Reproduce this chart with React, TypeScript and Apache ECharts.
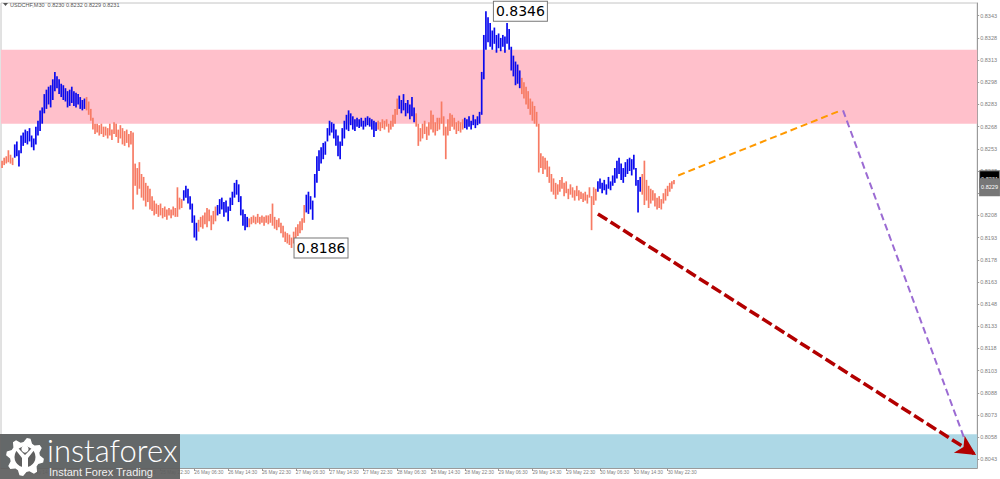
import React, { useEffect, useRef } from "react";
import * as echarts from "echarts";

// ---- data (prices in pips: value x 10000) ----
const LOW_PIPS = [
  8240,8242,8243,8244,8243,8242,8247,8248,8241,8250,8255,8257,8256,8258,8254,8252,8256,8262,8265,8270,
  8277,8280,8283,8281,8286,8292,8294,8290,8288,8286,8285,8281,8282,8284,8282,8281,8283,8280,8279,8280,
  8279,8276,8272,8266,8263,8264,8262,8263,8261,8262,8260,8262,8259,8263,8261,8257,8260,8256,8255,8257,
  8254,8256,8212,8228,8222,8226,8220,8218,8214,8217,8212,8211,8208,8209,8207,8208,8206,8207,8205,8208,
  8206,8208,8207,8207,8212,8213,8218,8220,8216,8212,8203,8193,8191,8197,8200,8199,8202,8200,8204,8198,
  8202,8204,8208,8209,8212,8207,8210,8204,8211,8215,8220,8222,8217,8208,8201,8198,8200,8200,8202,8203,
  8202,8203,8202,8203,8201,8203,8202,8203,8201,8199,8198,8200,8196,8193,8190,8189,8188,8186,8189,8192,
  8194,8196,8198,8203,8210,8209,8212,8205,8220,8230,8238,8243,8246,8249,8258,8262,8264,8260,8255,8248,
  8246,8255,8260,8266,8265,8269,8266,8265,8268,8267,8268,8266,8268,8269,8268,8266,8261,8265,8266,8265,
  8267,8266,8268,8264,8266,8268,8270,8276,8280,8277,8279,8275,8277,8273,8275,8271,8268,8255,8258,8260,
  8263,8259,8262,8266,8264,8262,8265,8266,8270,8262,8246,8262,8265,8268,8266,8263,8265,8264,8266,8267,
  8266,8268,8266,8269,8267,8269,8270,8276,8300,8320,8325,8322,8320,8324,8318,8321,8319,8322,8318,8324,
  8320,8306,8302,8296,8297,8294,8290,8287,8283,8280,8276,8272,8270,8268,8237,8240,8236,8239,8234,8230,
  8224,8222,8219,8222,8224,8226,8221,8223,8219,8222,8220,8218,8221,8218,8219,8217,8218,8216,8220,8198,
  8215,8218,8224,8226,8223,8225,8222,8226,8225,8228,8230,8233,8236,8232,8230,8234,8236,8238,8235,8239,
  8228,8210,8224,8222,8215,8218,8213,8216,8218,8214,8212,8213,8212,8216,8218,8221,8224,8226,8229,
];
const HIGH_PIPS = [
  8245,8247,8248,8252,8249,8247,8256,8258,8252,8262,8264,8266,8265,8267,8262,8260,8268,8272,8279,8281,
  8290,8293,8295,8296,8300,8305,8302,8300,8297,8296,8294,8292,8293,8295,8292,8291,8290,8288,8286,8287,
  8288,8285,8280,8274,8270,8270,8269,8270,8268,8268,8267,8270,8266,8271,8270,8266,8269,8267,8265,8266,
  8263,8265,8264,8243,8240,8244,8236,8234,8230,8228,8226,8221,8218,8216,8215,8216,8213,8214,8212,8213,
  8212,8214,8213,8227,8220,8219,8225,8228,8226,8221,8216,8208,8203,8205,8207,8208,8210,8213,8212,8208,
  8211,8214,8215,8219,8220,8217,8218,8214,8220,8224,8230,8232,8229,8221,8212,8209,8207,8206,8207,8208,
  8207,8209,8207,8208,8207,8208,8208,8209,8216,8207,8205,8206,8203,8201,8197,8196,8195,8193,8197,8200,
  8202,8204,8206,8215,8222,8224,8221,8218,8236,8248,8252,8254,8257,8258,8267,8272,8271,8270,8266,8262,
  8258,8267,8272,8276,8279,8277,8275,8273,8274,8273,8274,8272,8274,8275,8274,8273,8272,8271,8272,8271,
  8273,8272,8273,8270,8272,8276,8280,8287,8289,8286,8290,8284,8286,8283,8288,8281,8277,8270,8267,8270,
  8272,8268,8271,8279,8276,8271,8274,8274,8285,8275,8268,8273,8277,8276,8274,8271,8272,8271,8273,8274,
  8273,8275,8272,8276,8273,8275,8278,8305,8330,8346,8342,8338,8333,8335,8330,8331,8328,8330,8329,8338,
  8334,8322,8316,8312,8310,8306,8301,8298,8295,8292,8287,8285,8282,8278,8270,8250,8248,8247,8245,8241,
  8236,8233,8230,8229,8232,8234,8230,8231,8226,8229,8227,8225,8228,8225,8224,8223,8224,8222,8227,8221,
  8227,8226,8231,8233,8230,8232,8229,8234,8231,8235,8240,8245,8247,8243,8240,8244,8246,8247,8246,8249,
  8240,8232,8234,8236,8245,8232,8228,8226,8225,8223,8220,8221,8219,8223,8226,8228,8230,8231,8232,
];
// first bar index of each wave; waves alternate down (salmon) / up (blue)
const WAVE_STARTS = [0, 6, 40, 86, 93, 102, 117, 144, 178, 188, 196, 219, 246, 282, 303];
const WAVE_COLORS = ["#f77b64", "#0a0aee"];

const TIME_LABELS = [
  "24 May 14:30", "24 May 22:30", "25 May 06:30", "25 May 14:30", "25 May 22:30",
  "26 May 06:30", "26 May 14:30", "26 May 22:30", "27 May 06:30", "27 May 14:30",
  "27 May 22:30", "28 May 06:30", "28 May 14:30", "28 May 22:30", "29 May 06:30",
  "29 May 14:30", "29 May 22:30", "30 May 06:30", "30 May 14:30", "30 May 22:30",
];
const FIRST_LABEL_INDEX = 11;
const LABEL_STEP = 16;
const SLOT_COUNT = 462;

const PRICE_TICKS = [
  0.8043, 0.8058, 0.8073, 0.8088, 0.8103, 0.8118, 0.8133, 0.8148, 0.8163, 0.8178, 0.8193,
  0.8208, 0.8223, 0.8238, 0.8253, 0.8268, 0.8283, 0.8298, 0.8313, 0.8328, 0.8343,
];
const Y_MIN = 0.80372;
const Y_MAX = 0.83516;

const RESISTANCE_ZONE = [0.827, 0.832];
const SUPPORT_ZONE = [Y_MIN, 0.806];
const HIGH_MARK = [229, 0.8346];
const LOW_MARK = [137, 0.8186];
const LAST_PRICE = 0.8231;
const BID_PRICE = 0.8229;

const ORANGE_PATH = [[320, 0.8235], [397, 0.8279]];
const PURPLE_PATH = [[398, 0.8279], [457, 0.8051]];
const RED_PATH = [[282, 0.8209], [460.5, 0.8046]];

const TITLE = "USDCHF,M30  0.8230 0.8232 0.8229 0.8231";

function waveIndex(i: number) {
  let w = 0;
  for (let k = 0; k < WAVE_STARTS.length; k++) if (i >= WAVE_STARTS[k]) w = k;
  return w % 2;
}

function gearPoints(cx: number, cy: number, ro: number, ri: number, teeth: number) {
  const pts: number[][] = [];
  const n = teeth * 4;
  for (let k = 0; k < n; k++) {
    const a = (k / n) * Math.PI * 2 - Math.PI / 2 + Math.PI / n;
    const r = k % 4 < 2 ? ro : ri;
    pts.push([cx + r * Math.cos(a), cy + r * Math.sin(a)]);
  }
  return pts;
}

export default function App() {
  const ref = useRef<HTMLDivElement>(null);
  useEffect(() => {
    document.body.style.margin = "0";
    const chart = echarts.init(ref.current!, null, { renderer: "svg" });

    const categories = Array.from({ length: SLOT_COUNT }, (_, i) => {
      const k = (i - FIRST_LABEL_INDEX) / LABEL_STEP;
      return Number.isInteger(k) && k >= 0 && k < TIME_LABELS.length ? TIME_LABELS[k] : "";
    });
    const showLabel = (_i: number, v: string) => v !== "";

    // [index, low, high, wave]
    const bars = LOW_PIPS.map((lo, i) => [i, lo / 10000, HIGH_PIPS[i] / 10000, waveIndex(i)]);

    const arrow = (path: number[][], color: string, width: number, dash: number[], head: boolean) => ({
      type: "line",
      data: [],
      z: 5,
      silent: true,
      markLine: {
        silent: true,
        animation: false,
        symbol: ["none", head ? "arrow" : "none"],
        symbolSize: head ? [15, 20] : 0,
        label: { show: false },
        lineStyle: { color, width, type: dash, opacity: 1 },
        emphasis: { disabled: true },
        data: [[{ coord: path[0] }, { coord: path[1] }]],
        itemStyle: { color },
      },
    });

    const boxLabel = {
      show: true,
      color: "#000",
      fontSize: 14,
      fontFamily: "DejaVu Sans",
      backgroundColor: "#fff",
      borderColor: "#777",
      borderWidth: 1,
      padding: [2, 2, 1, 2],
      lineHeight: 16,
    };
    const priceTag = (bg: string, dy: number, text: string) => ({
      show: true,
      position: "right",
      distance: 4,
      offset: [0, dy],
      formatter: text,
      backgroundColor: bg,
      color: "#fff",
      fontSize: 5.5,
      padding: [0, 1],
      fontFamily: "Liberation Sans",
    });

    const Z = 100;
    chart.setOption({
      animation: false,
      grid: {
        left: 1,
        right: 19,
        top: 3,
        bottom: 11,
        show: true,
        borderColor: "#c4c4c4",
        borderWidth: 1,
        backgroundColor: "transparent",
      },
      xAxis: {
        type: "category",
        data: categories,
        boundaryGap: true,
        axisLine: { show: true, lineStyle: { color: "#9a9a9a" } },
        axisTick: {
          show: true,
          interval: showLabel,
          alignWithLabel: true,
          length: 3,
          lineStyle: { color: "#9a9a9a" },
        },
        axisLabel: {
          interval: showLabel,
          align: "left",
          fontSize: 4.8,
          color: "#808080",
          margin: 2,
          fontFamily: "Liberation Sans",
        },
        splitLine: { show: false },
      },
      yAxis: {
        type: "value",
        position: "right",
        min: Y_MIN,
        max: Y_MAX,
        axisLine: { show: true, lineStyle: { color: "#9a9a9a" } },
        axisTick: { show: true, customValues: PRICE_TICKS, length: 2, lineStyle: { color: "#9a9a9a" } },
        axisLabel: {
          customValues: PRICE_TICKS,
          formatter: (v: number) => v.toFixed(4),
          fontSize: 5.5,
          color: "#808080",
          margin: 3,
          fontFamily: "Liberation Sans",
        },
        splitLine: { show: false },
      },
      series: [
        {
          type: "line",
          data: [],
          z: 1,
          silent: true,
          markArea: {
            silent: true,
            z: 1,
            label: { show: false },
            data: [
              [
                { yAxis: RESISTANCE_ZONE[1], itemStyle: { color: "#ffc0cb", opacity: 1 } },
                { yAxis: RESISTANCE_ZONE[0] },
              ],
              [
                { yAxis: SUPPORT_ZONE[1], itemStyle: { color: "#add8e6", opacity: 1 } },
                { yAxis: SUPPORT_ZONE[0] },
              ],
            ],
          },
        },
        {
          type: "custom",
          data: bars,
          z: 3,
          silent: true,
          encode: { x: 0, y: [1, 2] },
          renderItem: (_params: any, api: any) => {
            const lo = api.coord([api.value(0), api.value(1)]);
            const hi = api.coord([api.value(0), api.value(2)]);
            const c = WAVE_COLORS[api.value(3)];
            return {
              type: "rect",
              shape: { x: lo[0] - 0.85, y: hi[1], width: 1.7, height: Math.max(1, lo[1] - hi[1]) },
              style: { fill: c },
            };
          },
          markPoint: {
            silent: true,
            symbol: "circle",
            symbolSize: 0,
            label: boxLabel,
            data: [
              { coord: HIGH_MARK, label: { ...boxLabel, position: "right", distance: 8, formatter: HIGH_MARK[1].toFixed(4) } },
              { coord: LOW_MARK, label: { ...boxLabel, position: "right", distance: 3, formatter: LOW_MARK[1].toFixed(4) } },
              { coord: [SLOT_COUNT - 1, LAST_PRICE], label: priceTag("#000", -2, LAST_PRICE.toFixed(4)) },
              { coord: [SLOT_COUNT - 1, BID_PRICE], label: priceTag("#777", 3, BID_PRICE.toFixed(4)) },
            ],
          },
        },
        arrow(ORANGE_PATH, "#ff9900", 2, [7, 4], false),
        arrow(PURPLE_PATH, "#9b6bd3", 2, [7, 4], false),
        arrow(RED_PATH, "#b30000", 3.5, [11, 4], true),
      ],
      graphic: [
        {
          type: "polygon",
          z: Z,
          shape: { points: [[3, 3], [8, 3], [5.5, 6]] },
          style: { fill: "#555" },
        },
        {
          type: "text",
          z: Z,
          x: 10,
          y: 1.5,
          style: { text: TITLE, fontSize: 5.5, fill: "#555", fontFamily: "Liberation Sans" },
        },
        { type: "rect", z: Z, shape: { x: 0, y: 434, width: 180, height: 45 }, style: { fill: "rgba(95,95,95,0.93)" } },
        { type: "polygon", z: Z + 1, shape: { points: gearPoints(25, 457, 19, 15, 8) }, style: { fill: "#ffffff" } },
        { type: "circle", z: Z + 2, shape: { cx: 25, cy: 457, r: 10.5 }, style: { fill: "#5f5f5f" } },
        { type: "circle", z: Z + 3, shape: { cx: 25, cy: 449, r: 3.6 }, style: { fill: "#ffffff" } },
        {
          type: "polygon",
          z: Z + 3,
          shape: { points: [[15, 449], [19, 449], [25, 455], [31, 449], [35, 449], [28, 458], [28, 471], [22, 471], [22, 458]] },
          style: { fill: "#ffffff" },
        },
        {
          type: "text",
          z: Z + 3,
          x: 47,
          y: 434,
          style: { text: "instaforex", fontSize: 31, fill: "#ffffff", fontFamily: "Lato", fontWeight: 300 },
        },
        {
          type: "text",
          z: Z + 3,
          x: 49,
          y: 466,
          style: { text: "Instant Forex Trading", fontSize: 11, fill: "#f0f0f0", fontFamily: "Liberation Sans" },
        },
      ],
    });
    return () => chart.dispose();
  }, []);
  return <div ref={ref} style={{ width: 1000, height: 479 }} />;
}
